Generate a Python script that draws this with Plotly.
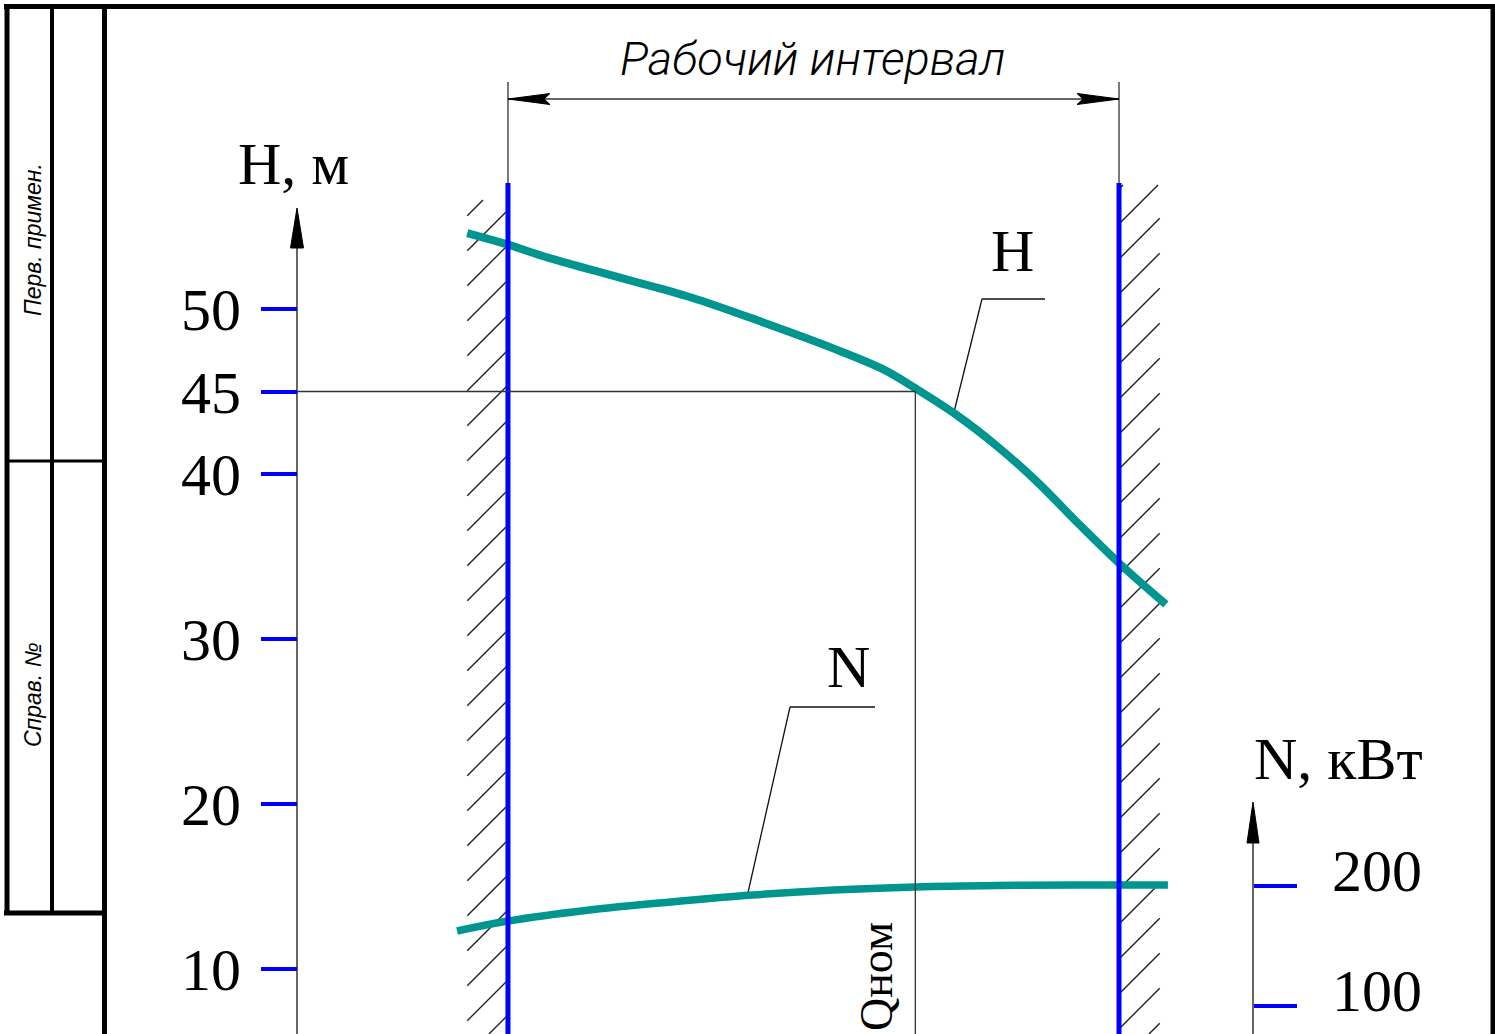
import plotly.graph_objects as go

# ---------------- data ----------------
Q_H = [280, 300, 320, 355, 390, 425, 460, 485, 500, 520, 540, 560, 580, 600, 623]
H_VALUES = [54.6, 53.9, 53.1, 51.9, 50.7, 49.2, 47.6, 46.3, 45.2, 43.6, 41.7, 39.5, 37.0, 34.6, 32.1]

Q_N = [275, 300, 340, 380, 420, 460, 500, 540, 580, 624]
N_VALUES = [162.5, 170.8, 180.0, 186.7, 192.5, 196.7, 199.2, 200.4, 200.8, 200.8]

H_TICKS = [10, 20, 30, 40, 45, 50]
N_TICKS = [100, 200]

Q_WORK_MIN = 300
Q_WORK_MAX = 600
Q_NOM = 500
H_NOM = 45

# ---------------- geometry ----------------
W, HT = 1495, 1034
X_RANGE = [50.6, 784.6]
H_RANGE = [6.06, 68.73]
N_RANGE = [76.7, 938.3]
H_AXIS_POS = 297 / W
N_AXIS_POS = 1253 / W

TEAL = "rgb(0,150,143)"
BLUE = "#0000FF"
DARK = "#333333"
SERIF = "Liberation Serif, Times New Roman, serif"


def px(x):
    return x / W


def py(y):
    return 1 - y / HT


def q_to_px(q):
    return (q - X_RANGE[0]) / (X_RANGE[1] - X_RANGE[0]) * W


fig = go.Figure()

fig.add_trace(go.Scatter(x=Q_H, y=H_VALUES, mode="lines", yaxis="y",
                         line=dict(color=TEAL, width=8, shape="spline", smoothing=1.0),
                         hoverinfo="skip", showlegend=False))
fig.add_trace(go.Scatter(x=Q_N, y=N_VALUES, mode="lines", yaxis="y2",
                         line=dict(color=TEAL, width=7.5, shape="spline", smoothing=1.0),
                         hoverinfo="skip", showlegend=False))

shapes = []


def pline(x0, y0, x1, y1, color="black", width=1.3):
    shapes.append(dict(type="line", xref="paper", yref="paper",
                       x0=px(x0), y0=py(y0), x1=px(x1), y1=py(y1),
                       line=dict(color=color, width=width), layer="below"))


def ptri(pts, color="black"):
    path = "M " + " L ".join(f"{px(a)},{py(b)}" for a, b in pts) + " Z"
    shapes.append(dict(type="path", xref="paper", yref="paper", path=path,
                       fillcolor=color, line=dict(color=color, width=1)))


# ---- drawing frame ----
pline(4, 6.5, 1495, 6.5, width=5)
pline(7, 4, 7, 915, width=5)
pline(52, 4, 52, 913, width=4)
pline(104.5, 4, 104.5, 1034, width=5)
pline(4, 913, 107, 913, width=5)
pline(7, 461, 104, 461, width=3)
pline(1493, 4, 1493, 1034, width=5)

# ---- hatching (45 deg) ----
xl0, xl1 = q_to_px(Q_WORK_MIN - 20), q_to_px(Q_WORK_MIN)
d = xl1 - xl0
r = 175
while r < 1100:
    ya, yb = r + d, r  # at xl0, xl1
    xa, xb = xl0, xl1
    if yb < 200:
        xb = xl1 - (200 - yb)
        yb = 200
    if ya > 1034:
        xa = xl0 + (ya - 1034)
        ya = 1034
    if ya > yb:
        pline(xa, ya, xb, yb, color="#222222", width=1.4)
    r += 35

xr0, xr1 = q_to_px(Q_WORK_MAX), q_to_px(Q_WORK_MAX + 20)
d = xr1 - xr0
l = 189
while l < 1100:
    ya, yb = l, l - d
    xa, xb = xr0, xr1
    if yb < 185:
        xb = xr0 + (l - 185)
        yb = 185
    if ya > 1034:
        xa = xr0 + (ya - 1034)
        ya = 1034
    if ya > yb:
        pline(xa, ya, xb, yb, color="#222222", width=1.4)
    l += 35

# ---- working-interval boundaries ----
for q in (Q_WORK_MIN, Q_WORK_MAX):
    shapes.append(dict(type="line", xref="x", yref="paper", x0=q, x1=q,
                       y0=py(82), y1=py(185), line=dict(color=DARK, width=1.3)))
    shapes.append(dict(type="line", xref="x", yref="paper", x0=q, x1=q,
                       y0=py(183), y1=0, line=dict(color=BLUE, width=5)))

# dimension line with arrows
xa, xb = q_to_px(Q_WORK_MIN), q_to_px(Q_WORK_MAX)
pline(xa, 99, xb, 99, color=DARK, width=1.3)
ptri([(xa, 99), (xa + 42, 93.5), (xa + 36, 99), (xa + 42, 104.5)])
ptri([(xb, 99), (xb - 42, 93.5), (xb - 36, 99), (xb - 42, 104.5)])

# ---- nominal point lines ----
q_axis_H = X_RANGE[0] + H_AXIS_POS * (X_RANGE[1] - X_RANGE[0])
shapes.append(dict(type="line", xref="x", yref="y", x0=q_axis_H, x1=Q_NOM,
                   y0=H_NOM, y1=H_NOM, line=dict(color=DARK, width=1.3)))
shapes.append(dict(type="line", xref="x", yref="y", x0=Q_NOM, x1=Q_NOM,
                   y0=H_NOM, y1=H_RANGE[0] - 2, line=dict(color=DARK, width=1.3)))

# ---- axis lines with arrows ----
pline(297, 240, 297, 1034, color=DARK, width=1.5)
ptri([(297, 208), (290.5, 248), (303.5, 248)])
pline(1253, 830, 1253, 1034, color=DARK, width=1.5)
ptri([(1253, 802), (1247, 843), (1259, 843)])

# ---- leaders ----
pline(954, 412, 982, 299, color="#111111", width=1.3)
pline(982, 299, 1045, 299, color="#111111", width=1.3)
pline(747, 897, 790, 707, color="#111111", width=1.3)
pline(790, 707, 875, 707, color="#111111", width=1.3)

annotations = []


def text(x, y, s, size, family=SERIF, angle=0, xanchor="center", weight=None):
    font = dict(family=family, size=size, color="black")
    if weight:
        font["weight"] = weight
    annotations.append(dict(x=px(x), y=py(y), xref="paper", yref="paper", text=s,
                            showarrow=False, textangle=angle, xanchor=xanchor,
                            yanchor="middle", font=font))


text(812, 58, "<i>Рабочий интервал</i>", 47, family="Roboto, Liberation Sans, sans-serif", weight=300)
text(293, 164, "H, м", 60)
text(1338, 759, "N, кВт", 60)
text(1013, 251, "H", 60)
text(848, 667, "N", 60)
text(876, 977, "Qном", 46, angle=-90)
text(33, 240, "<i>Перв. примен.</i>", 23, family="Liberation Sans, Arial, sans-serif", angle=-90)
text(33, 695, "<i>Справ. №</i>", 23, family="Liberation Sans, Arial, sans-serif", angle=-90)

# N-axis tick labels, placed at the tick values of the N scale (raised slightly, as drawn)
for v in N_TICKS:
    annotations.append(dict(x=px(1330), y=v, xref="paper", yref="y2", text=str(v),
                            showarrow=False, xanchor="left", yanchor="middle", yshift=15,
                            font=dict(family=SERIF, size=60, color="black")))

fig.update_layout(
    width=W, height=HT,
    margin=dict(l=0, r=0, t=0, b=0),
    paper_bgcolor="white", plot_bgcolor="white",
    showlegend=False,
    shapes=shapes,
    annotations=annotations,
    xaxis=dict(range=X_RANGE, domain=[0, 1], visible=False, fixedrange=True),
    yaxis=dict(range=H_RANGE, domain=[0, 1], anchor="free", position=H_AXIS_POS, side="left",
               showline=False, showgrid=False, zeroline=False, automargin=False,
               tickmode="array", tickvals=H_TICKS, ticktext=[str(v) for v in H_TICKS],
               ticks="outside", ticklen=36, tickwidth=4, tickcolor=BLUE,
               ticklabelstandoff=8, ticklabeloverflow="allow",
               tickfont=dict(family=SERIF, size=60, color="black")),
    yaxis2=dict(range=N_RANGE, domain=[0, 1], overlaying="y", anchor="free", position=N_AXIS_POS,
                side="right", showline=False, showgrid=False, zeroline=False, automargin=False,
                tickmode="array", tickvals=N_TICKS, showticklabels=False,
                ticks="outside", ticklen=43, tickwidth=4, tickcolor=BLUE),
)

fig.write_html("out.html", config={"displayModeBar": False, "staticPlot": True},
               post_script="document.body.style.margin='0';document.body.style.overflow='hidden';")
